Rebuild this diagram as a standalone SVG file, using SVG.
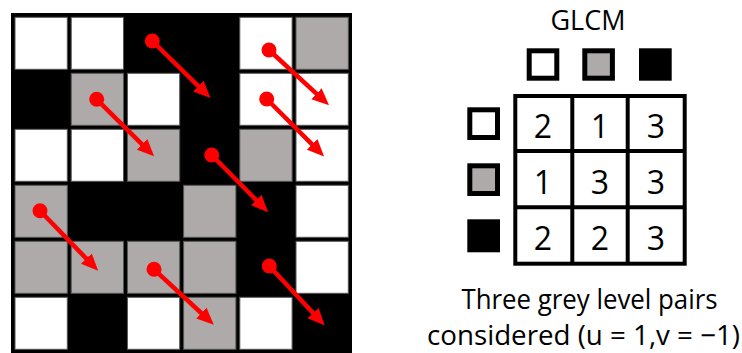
<svg xmlns="http://www.w3.org/2000/svg" width="742" height="353" viewBox="0 0 742 353">
<style>
.w{fill:#ffffff;stroke:#555;stroke-width:1}
.g{fill:#aeaaa9;stroke:#555;stroke-width:1}
.arr{stroke:#ff0000;stroke-width:4.5;fill:none}
.dot{fill:#ff0000}
.t{font-family:"Open Sans","Liberation Sans",sans-serif;fill:#000}
.lg{stroke:#000;stroke-width:5}
.tb{fill:#fff;stroke:#000;stroke-width:4}
.ln{stroke:#000;stroke-width:4}
</style>
<defs>
<marker id="ah" markerUnits="userSpaceOnUse" markerWidth="18" markerHeight="16" refX="5" refY="8" orient="auto">
<path d="M0,0.5 L17,8 L0,15.5 z" fill="#ff0000"/>
</marker>
</defs>
<g id="image-grid">
<rect x="11" y="13" width="341" height="340" fill="#000"/>
<rect class="w" x="15" y="17.3" width="52.3" height="52"/>
<rect class="w" x="71.2" y="17.3" width="52.3" height="52"/>
<rect class="w" x="239.8" y="17.3" width="52.3" height="52"/>
<rect class="g" x="296" y="17.3" width="52.3" height="52"/>
<rect class="g" x="71.2" y="73.3" width="52.3" height="52"/>
<rect class="w" x="127.4" y="73.3" width="52.3" height="52"/>
<rect class="w" x="239.8" y="73.3" width="52.3" height="52"/>
<rect class="w" x="296" y="73.3" width="52.3" height="52"/>
<rect class="w" x="15" y="129.3" width="52.3" height="52"/>
<rect class="w" x="71.2" y="129.3" width="52.3" height="52"/>
<rect class="g" x="127.4" y="129.3" width="52.3" height="52"/>
<rect class="g" x="239.8" y="129.3" width="52.3" height="52"/>
<rect class="w" x="296" y="129.3" width="52.3" height="52"/>
<rect class="g" x="15" y="185.3" width="52.3" height="52"/>
<rect class="g" x="183.6" y="185.3" width="52.3" height="52"/>
<rect class="w" x="296" y="185.3" width="52.3" height="52"/>
<rect class="g" x="15" y="241.3" width="52.3" height="52"/>
<rect class="g" x="71.2" y="241.3" width="52.3" height="52"/>
<rect class="g" x="127.4" y="241.3" width="52.3" height="52"/>
<rect class="g" x="183.6" y="241.3" width="52.3" height="52"/>
<rect class="w" x="296" y="241.3" width="52.3" height="52"/>
<rect class="w" x="15" y="297.3" width="52.3" height="52"/>
<rect class="w" x="127.4" y="297.3" width="52.3" height="52"/>
<rect class="g" x="183.6" y="297.3" width="52.3" height="52"/>
<rect class="w" x="239.8" y="297.3" width="52.3" height="52"/>
</g>
<g id="connectors">
<line class="arr" x1="152.3" y1="41" x2="201.9" y2="89.6" marker-end="url(#ah)"/>
<line class="arr" x1="269" y1="50" x2="320.2" y2="97.2" marker-end="url(#ah)"/>
<line class="arr" x1="96.7" y1="99.3" x2="145.6" y2="147.9" marker-end="url(#ah)"/>
<line class="arr" x1="266.7" y1="99" x2="315.6" y2="147.9" marker-end="url(#ah)"/>
<line class="arr" x1="211.7" y1="155" x2="259.7" y2="203.6" marker-end="url(#ah)"/>
<line class="arr" x1="40" y1="210.7" x2="89.8" y2="262.2" marker-end="url(#ah)"/>
<line class="arr" x1="154" y1="269.3" x2="205" y2="316.5" marker-end="url(#ah)"/>
<line class="arr" x1="269.3" y1="266" x2="316.5" y2="316.7" marker-end="url(#ah)"/>
<circle class="dot" cx="152.3" cy="41" r="7.5"/>
<circle class="dot" cx="269" cy="50" r="7.5"/>
<circle class="dot" cx="96.7" cy="99.3" r="7.5"/>
<circle class="dot" cx="266.7" cy="99" r="7.5"/>
<circle class="dot" cx="211.7" cy="155" r="7.5"/>
<circle class="dot" cx="40" cy="210.7" r="7.5"/>
<circle class="dot" cx="154" cy="269.3" r="7.5"/>
<circle class="dot" cx="269.3" cy="266" r="7.5"/>
</g>
<g id="glcm-title">
<text class="t" x="588" y="30" font-size="27" text-anchor="middle">GLCM</text>
</g>
<g id="col-legend">
<rect class="lg" x="529.2" y="50.8" width="27.6" height="27.4" fill="#fff"/>
<rect class="lg" x="584.8" y="50.8" width="27.6" height="27.4" fill="#aeaaa9"/>
<rect x="639" y="48.3" width="32.7" height="32.4" fill="#000"/>
</g>
<g id="row-legend">
<rect class="lg" x="469.8" y="109.8" width="27.7" height="27.7" fill="#fff"/>
<rect class="lg" x="469.8" y="165.8" width="27.7" height="27.7" fill="#aeaaa9"/>
<rect x="467.3" y="219.3" width="32.7" height="33" fill="#000"/>
</g>
<g id="glcm-table">
<rect class="tb" x="515.3" y="96" width="169.4" height="167.7"/>
<line class="ln" x1="572.3" y1="96" x2="572.3" y2="263.7"/>
<line class="ln" x1="627.7" y1="96" x2="627.7" y2="263.7"/>
<line class="ln" x1="515.3" y1="151" x2="684.7" y2="151"/>
<line class="ln" x1="515.3" y1="207.3" x2="684.7" y2="207.3"/>
<text class="t" font-size="32" text-anchor="middle" x="543" y="138">2</text>
<text class="t" font-size="32" text-anchor="middle" x="600" y="138">1</text>
<text class="t" font-size="32" text-anchor="middle" x="656" y="138">3</text>
<text class="t" font-size="32" text-anchor="middle" x="543" y="193.5">1</text>
<text class="t" font-size="32" text-anchor="middle" x="600" y="193.5">3</text>
<text class="t" font-size="32" text-anchor="middle" x="656" y="193.5">3</text>
<text class="t" font-size="32" text-anchor="middle" x="543" y="249.5">2</text>
<text class="t" font-size="32" text-anchor="middle" x="600" y="249.5">2</text>
<text class="t" font-size="32" text-anchor="middle" x="656" y="249.5">3</text>
</g>
<g id="caption">
<text class="t" x="589.5" y="309" font-size="27" text-anchor="middle" textLength="256" lengthAdjust="spacingAndGlyphs">Three grey level pairs</text>
<text class="t" x="583.5" y="345" font-size="27" text-anchor="middle" textLength="313" lengthAdjust="spacingAndGlyphs">considered (u = 1,v = −1)</text>
</g>
</svg>
